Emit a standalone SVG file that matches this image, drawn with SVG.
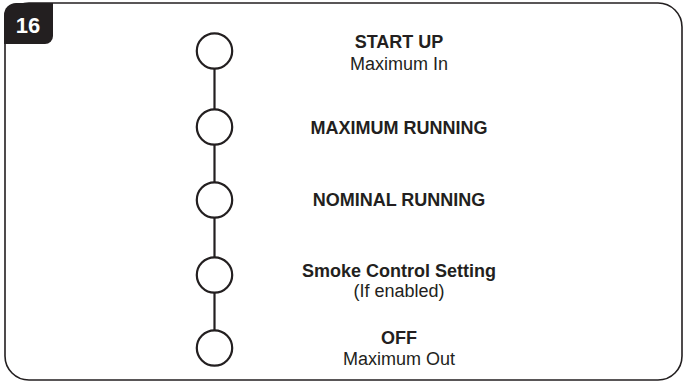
<svg xmlns="http://www.w3.org/2000/svg" width="684" height="383" viewBox="0 0 684 383">
<style>
.frame{fill:none;stroke:#231f20;stroke-width:1.6}
.node circle{fill:#fff;stroke:#231f20;stroke-width:2.2}
.conn line{stroke:#231f20;stroke-width:2.2}
text{font-family:"Liberation Sans",Arial,Helvetica,sans-serif;fill:#231f20;text-anchor:middle;font-size:18px}
.b{font-weight:bold}
</style>
<rect width="684" height="383" fill="#fff"/>
<path class="frame" d="M30,3 H658 A24,24 0 0 1 682,27 V356 A24,24 0 0 1 658,380 H29 A24,24 0 0 1 5,356 V27 A24,24 0 0 1 29,3 Z"/>
<g id="tab">
<path d="M4,15 A12,12 0 0 1 16,3 H53 V36 A8,8 0 0 1 45,44 H4 Z" fill="#231f20"/>
<text x="28" y="33" style="fill:#fff;font-weight:bold;font-size:22px">16</text>
</g>
<g id="connectors" class="conn">
<line x1="214.5" y1="51" x2="214.5" y2="348"/>
</g>
<g id="n1" class="node"><circle cx="214.5" cy="51" r="17.7"/><text class="b" x="399" y="47.5">START UP</text><text x="399" y="69.5">Maximum In</text></g>
<g id="n2" class="node"><circle cx="214.5" cy="127" r="17.7"/><text class="b" x="399" y="133.5">MAXIMUM RUNNING</text></g>
<g id="n3" class="node"><circle cx="214.5" cy="200" r="17.7"/><text class="b" x="399" y="205.5">NOMINAL RUNNING</text></g>
<g id="n4" class="node"><circle cx="214.5" cy="275" r="17.7"/><text class="b" x="399" y="276.5">Smoke Control Setting</text><text x="399" y="297">(If enabled)</text></g>
<g id="n5" class="node"><circle cx="214.5" cy="348" r="17.7"/><text class="b" x="399" y="343.5">OFF</text><text x="399" y="364.5">Maximum Out</text></g>
</svg>
